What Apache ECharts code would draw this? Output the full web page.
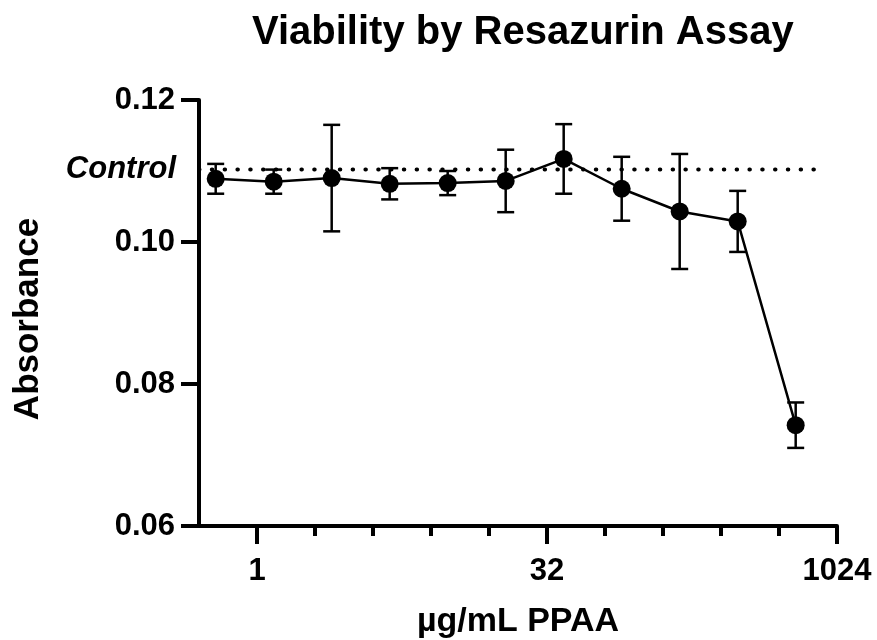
<!DOCTYPE html>
<html>
<head>
<meta charset="utf-8">
<script src="https://cdn.jsdelivr.net/npm/echarts@6/dist/echarts.min.js"></script>
<style>
  html, body { margin: 0; padding: 0; background: #fff; }
  #chart { width: 877px; height: 640px; }
</style>
</head>
<body>
<div id="chart"></div>
<script>
// ---- data ----
const concentrations = [0.6104, 1.2207, 2.4414, 4.8828, 9.7656, 19.531, 39.063, 78.125, 156.25, 312.5, 625];
const meanAbsorbance = [0.1089, 0.1085, 0.1090, 0.1082, 0.1083, 0.1086, 0.1117, 0.1075, 0.1043, 0.1029, 0.0742];
const sdAbsorbance   = [0.0021, 0.0017, 0.0075, 0.0022, 0.0017, 0.0044, 0.0049, 0.0045, 0.0081, 0.0043, 0.0032];
const controlValue = 0.1102;
const controlSpan = [0.5, 890];
const xMajorTicks = [1, 32, 1024];
const xMinorTicks = [2, 4, 8, 16, 64, 128, 256, 512];
const yTicks = [0.06, 0.08, 0.10, 0.12];
const xRange = [0.5, 1024];

const FONT = 'Liberation Sans, Arial, Helvetica, sans-serif';

const chart = echarts.init(document.getElementById('chart'), null, { renderer: 'canvas' });

const errorData = concentrations.map((c, i) => [c, meanAbsorbance[i], sdAbsorbance[i]]);
const lineData = concentrations.map((c, i) => [c, meanAbsorbance[i]]);
const controlData = controlSpan.map(x => [x, controlValue]);

const option = {
  backgroundColor: '#ffffff',
  animation: false,
  title: {
    text: 'Viability by Resazurin Assay',
    left: 247,
    top: 8,
    textStyle: { fontFamily: FONT, fontWeight: 'bold', fontSize: 40, color: '#000' }
  },
  grid: { left: 199, right: 40, top: 100, bottom: 114, containLabel: false, outerBoundsMode: 'none' },
  xAxis: [
    {
      type: 'log', logBase: 2, min: xRange[0], max: xRange[1],
      position: 'bottom',
      name: 'µg/mL PPAA', nameLocation: 'middle', nameGap: 79,
      nameTextStyle: { fontFamily: FONT, fontWeight: 'bold', fontSize: 34, color: '#000' },
      axisLine: { show: true, onZero: false, lineStyle: { color: '#000', width: 4 } },
      axisTick: { show: true, customValues: xMajorTicks, length: 18, lineStyle: { color: '#000', width: 4 } },
      axisLabel: {
        show: true, customValues: xMajorTicks, margin: 30,
        formatter: v => String(Math.round(v)),
        fontFamily: FONT, fontWeight: 'bold', fontSize: 31, color: '#000'
      },
      splitLine: { show: false },
      minorTick: { show: false }
    },
    {
      type: 'log', logBase: 2, min: xRange[0], max: xRange[1],
      position: 'bottom',
      axisLine: { show: false },
      axisTick: { show: true, customValues: xMinorTicks, length: 10, lineStyle: { color: '#000', width: 4 } },
      axisLabel: { show: false },
      splitLine: { show: false }
    }
  ],
  yAxis: [
    {
      type: 'value', min: yTicks[0], max: yTicks[yTicks.length - 1], interval: 0.02,
      position: 'left',
      name: 'Absorbance', nameLocation: 'middle', nameGap: 153,
      nameTextStyle: { fontFamily: FONT, fontWeight: 'bold', fontSize: 35, color: '#000', padding: [0, 12, 0, 0] },
      axisLine: { show: true, onZero: false, lineStyle: { color: '#000', width: 4 } },
      axisTick: { show: true, length: 18, lineStyle: { color: '#000', width: 4 } },
      axisLabel: {
        margin: 24,
        formatter: v => v.toFixed(2),
        fontFamily: FONT, fontWeight: 'bold', fontSize: 31, color: '#000'
      },
      splitLine: { show: false }
    },
    {
      type: 'value', min: yTicks[0], max: yTicks[yTicks.length - 1],
      position: 'left',
      axisLine: { show: false },
      axisTick: { show: false },
      axisLabel: {
        customValues: [controlValue], margin: 23,
        formatter: () => 'Control',
        fontFamily: FONT, fontWeight: 'bold', fontStyle: 'italic', fontSize: 31, color: '#000'
      },
      splitLine: { show: false }
    }
  ],
  series: [
    {
      name: 'Control',
      type: 'line',
      xAxisIndex: 0, yAxisIndex: 0,
      data: controlData,
      symbol: 'none',
      z: 1,
      lineStyle: { color: '#000', width: 4, type: [0.5, 12.3], cap: 'round' },
      silent: true
    },
    {
      name: 'SD',
      type: 'custom',
      xAxisIndex: 0, yAxisIndex: 0,
      data: errorData,
      encode: { x: 0, y: 1 },
      z: 2,
      renderItem: function (params, api) {
        const x = api.value(0), m = api.value(1), s = api.value(2);
        const top = api.coord([x, m + s]);
        const bot = api.coord([x, m - s]);
        const hw = 8.5;
        const st = { stroke: '#000', lineWidth: 2.5 };
        return {
          type: 'group',
          children: [
            { type: 'line', shape: { x1: top[0], y1: top[1], x2: bot[0], y2: bot[1] }, style: st },
            { type: 'line', shape: { x1: top[0] - hw, y1: top[1], x2: top[0] + hw, y2: top[1] }, style: st },
            { type: 'line', shape: { x1: bot[0] - hw, y1: bot[1], x2: bot[0] + hw, y2: bot[1] }, style: st }
          ]
        };
      }
    },
    {
      name: 'Absorbance',
      type: 'line',
      xAxisIndex: 0, yAxisIndex: 0,
      data: lineData,
      z: 3,
      symbol: 'circle', symbolSize: 18, showSymbol: true,
      itemStyle: { color: '#000' },
      lineStyle: { color: '#000', width: 2.5 }
    }
  ]
};

chart.setOption(option);
</script>
</body>
</html>
